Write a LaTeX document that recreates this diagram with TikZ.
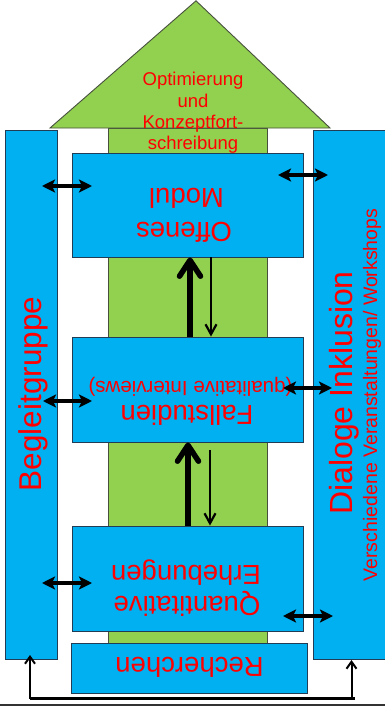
\documentclass[tikz,border=0pt]{standalone}
\usepackage{fontspec}
\setmainfont{Liberation Sans}
\usetikzlibrary{arrows.meta}

\definecolor{skyblue}{RGB}{0,176,240}
\definecolor{leaf}{RGB}{146,208,80}
\definecolor{boxline}{RGB}{35,60,85}
\definecolor{leafline}{RGB}{70,80,60}
\definecolor{labelred}{RGB}{255,0,0}

\tikzset{
  bluebox/.style={draw=boxline, fill=skyblue, line width=0.9pt, inner sep=0pt},
  greenshape/.style={draw=leafline, fill=leaf, line width=0.9pt},
  redtext/.style={text=labelred, inner sep=0pt},
  boxfont/.style={font=\fontsize{27.5}{32}\selectfont},
  upsidedown/.style={redtext, boxfont, rotate=180, anchor=base},
  sideways/.style={redtext, rotate=90, anchor=center},
  headline/.style={redtext, font=\fontsize{18.5}{21}\selectfont, anchor=base},
  thickflow/.style={line width=5.5pt, -{Straight Barb[length=16pt,width=21pt,round]}},
  thinflow/.style={line width=2.2pt, -{Straight Barb[length=10pt,width=11pt]}},
  biarrow/.style={line width=3.2pt, {Stealth[length=13pt,width=13pt,inset=3pt]}-{Stealth[length=13pt,width=13pt,inset=3pt]}},
  feedarrow/.style={line width=2pt, -{Straight Barb[length=7pt,width=10pt]}},
  feedline/.style={line width=3.2pt},
}

\begin{document}
\begin{tikzpicture}[x=1pt, y=-1pt]
\useasboundingbox (0,0) rectangle (385,709);

% green upward arrow: shaft and head
\draw[greenshape] (108,128) rectangle (267,643);
\draw[greenshape] (50,128) -- (196,0.8) -- (330,128) -- cycle;

% side bars
\node[bluebox, minimum width=52pt, minimum height=529pt] (bg) at (31,394.5) {};
\node[bluebox, minimum width=73pt, minimum height=529pt] (di) at (349.5,394.5) {};

% stage boxes
\node[bluebox, minimum width=231pt, minimum height=104pt] (om) at (187.5,205) {};
\node[bluebox, minimum width=231pt, minimum height=105pt] (fs) at (187.5,389.5) {};
\node[bluebox, minimum width=231pt, minimum height=105pt] (qe) at (187.5,578.5) {};
\node[bluebox, minimum width=236pt, minimum height=50pt] (re) at (189,668) {};

% head text
\node[headline] (opt1) at (193,85) {Optimierung};
\node[headline] (opt2) at (193,107) {und};
\node[headline] (opt3) at (193,128) {Konzeptfort-};
\node[headline] (opt4) at (193,149) {schreibung};

% box labels, set upside down
\node[upsidedown] (om1) at (184,222) {Offenes};
\node[upsidedown] (om2) at (186.5,188) {Modul};
\node[upsidedown] (fs1) at (187,405) {Fallstudien};
\node[upsidedown, font=\fontsize{20.5}{24}\selectfont] (fs2) at (190.5,381) {(qualitative Interviews)};
\node[upsidedown] (qe1) at (187,596) {Quantitative};
\node[upsidedown] (qe2) at (186,565) {Erhebungen};
\node[upsidedown] (re1) at (189.5,657) {Recherchen};

% bar labels
\node[sideways, font=\fontsize{31.5}{36}\selectfont] (bg1) at (33,394) {Begleitgruppe};
\node[sideways, font=\fontsize{32}{36}\selectfont] (di1) at (344,393) {Dialoge Inklusion};
\node[sideways, font=\fontsize{19.5}{23}\selectfont] (di2) at (372,395) {Verschiedene Veranstaltungen/ Workshops};

% flow between stages
\draw[thickflow] (fs.north -| 190,0) -- (om.south -| 190,0);
\draw[thinflow] (om.south -| 211,0) -- (fs.north -| 211,0);
\coordinate (d2s) at (210,450);
\draw[thickflow] (qe.north -| 188,0) -- (fs.south -| 188,0);
\draw[thinflow] (d2s) -- (qe.north -| d2s);

% exchange with the side bars
\coordinate (l1a) at (42,186);  \coordinate (l1b) at (92,186);
\coordinate (r1a) at (278,175); \coordinate (r1b) at (328,175);
\coordinate (l2a) at (43,401);  \coordinate (l2b) at (92,401);
\coordinate (r2a) at (283,388); \coordinate (r2b) at (332,388);
\coordinate (l3a) at (42,583);  \coordinate (l3b) at (92,583);
\coordinate (r3a) at (283,616); \coordinate (r3b) at (333,616);
\draw[biarrow] (l1a) -- (l1b);
\draw[biarrow] (r1a) -- (r1b);
\draw[biarrow] (l2a) -- (l2b);
\draw[biarrow] (r2a) -- (r2b);
\draw[biarrow] (l3a) -- (l3b);
\draw[biarrow] (r3a) -- (r3b);

% feedback loop under the diagram
\coordinate (fbl) at (30,698.5);
\coordinate (fbr) at (354.5,698.5);
\coordinate (fbrs) at (351.5,698.5);
\coordinate (fblt) at (30,655);
\coordinate (fbrt) at (351.5,660);
\draw[feedline] (fbl) -- (fbr);
\draw[feedarrow] (fbl) -- (fblt);
\draw[feedarrow] (fbrs) -- (fbrt);

% base rule
\coordinate (rule0) at (0,705);
\coordinate (rule1) at (385,705);
\draw[line width=2pt, black!80] (rule0) -- (rule1);
\end{tikzpicture}
\end{document}
